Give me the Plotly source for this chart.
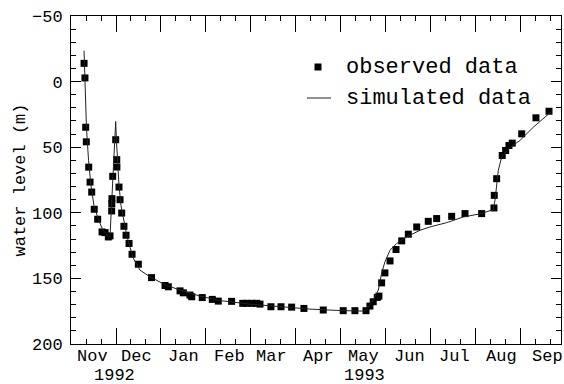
import datetime as dt
import plotly.graph_objects as go

# Time axis: days since 1 November 1992
START = dt.date(1992, 11, 1)

# Observed water level (m below reference), day offsets and values
obs_day = [8.7, 9.3, 9.8, 10.2, 11.8, 12.7, 13.8, 15.5, 17.8, 20.7, 22.7, 24.9, 26.0,
           27.1, 27.2, 27.3, 27.8, 29.8, 30.5, 30.6, 32.0, 32.7, 33.8, 35.3, 36.7,
           38.7, 40.7, 44.9, 53.7, 62.7, 64.9, 72.7, 74.9, 79.3, 80.5, 87.5, 94.2,
           98.2, 107.1, 114.5, 117.1, 120.5, 123.8, 126.0, 133.3, 140.0, 147.1,
           155.3, 168.2, 181.5, 189.3, 196.7, 199.3, 201.5, 204.2, 205.3, 207.1,
           209.3, 212.7, 216.7, 220.5, 224.9, 230.5, 238.2, 243.8, 253.8, 262.7,
           273.8, 282.0, 282.2, 283.8, 287.5, 289.8, 292.0, 294.2, 300.5, 310.0, 318.7]
obs_level = [-13.9, -2.8, 34.8, 45.9, 65.2, 76.6, 84.2, 97.3, 104.9, 114.6, 115.1, 118.4, 117.6,
             98.6, 93.0, 89.2, 72.2, 44.3, 59.5, 65.1, 80.4, 90.0, 100.2, 110.3, 117.1,
             123.4, 131.6, 139.2, 149.4, 155.4, 156.4, 159.5, 161.0, 162.7, 164.0, 164.6, 166.0,
             167.3, 167.5, 169.0, 169.0, 169.0, 169.0, 169.6, 171.6, 171.6, 171.9,
             172.9, 174.1, 174.6, 174.6, 174.6, 171.1, 167.8, 164.5, 163.5, 153.4,
             145.8, 136.7, 128.0, 121.4, 116.3, 110.8, 106.5, 104.4, 102.7, 100.6,
             100.6, 96.3, 86.7, 74.0, 56.3, 52.5, 48.7, 46.9, 39.8, 27.6, 22.6]

# Simulated water level
sim_day = [8.7, 9.3, 9.7, 10.3, 11.7, 13.3, 15.3, 18.0, 20.7, 23.3, 25.0, 26.0, 26.7,
           27.7, 28.7, 29.8, 30.3, 31.0, 32.0, 33.3, 35.3, 37.3, 39.3, 41.5, 46.0,
           52.7, 62.7, 72.7, 86.0, 99.3, 119.3, 139.3, 159.3, 179.3, 194.0, 196.7,
           199.3, 201.5, 204.9, 207.1, 209.3, 212.7, 217.1, 223.8, 232.7, 239.3,
           250.5, 261.5, 272.7, 281.5, 282.7, 283.8, 284.9, 287.1, 291.5, 299.3,
           308.2, 320.5]
sim_level = [-23.6, -3.0, 14.4, 35.0, 60.1, 79.1, 94.3, 104.2, 111.8, 116.3, 118.6, 117.9, 101.9,
             75.3, 52.5, 30.4, 44.9, 63.9, 79.1, 94.3, 107.2, 117.9, 126.2, 134.6, 143.7,
             148.8, 154.8, 158.9, 163.5, 166.9, 169.6, 171.5, 173.4, 174.5, 174.9, 174.1,
             170.3, 166.5, 158.9, 146.0, 137.4, 128.5, 123.4, 118.4, 113.3, 110.8,
             107.5, 103.2, 100.8, 97.6, 90.5, 76.6, 67.7, 57.6, 51.2, 44.9,
             34.8, 22.6]

# Month labels sit at the middle of each month
month_names = ["Nov", "Dec", "Jan", "Feb", "Mar", "Apr", "May", "Jun", "Jul", "Aug", "Sep"]
month_mid = [(dt.date(1992 + (10 + i) // 12, (10 + i) % 12 + 1, 15) - START).days
             for i in range(len(month_names))]
year_labels = ["1992", "1993"]
year_pos = [29, 196]

X_RANGE = [0, 326.7]
Y_RANGE = [200, -50]
FONT = "Liberation Mono"

W, H = 564, 384
ML, MR, MT, MB = 71, 3, 16, 40
PW, PH = W - ML - MR, H - MT - MB


def px_x(px):
    return (px - ML) / PW


def px_y(py):
    return 1 - (py - MT) / PH


fig = go.Figure()
fig.add_trace(go.Scatter(
    x=obs_day, y=obs_level, mode="markers", name="observed data",
    marker=dict(symbol="square", size=7, color="black"),
))
fig.add_trace(go.Scatter(
    x=sim_day, y=sim_level, mode="lines", name="simulated data",
    line=dict(color="#222222", width=1),
))
# Dummy trace so the tick-only axis is drawn
fig.add_trace(go.Scatter(x=[None], y=[None], xaxis="x2", showlegend=False, hoverinfo="skip"))

fig.update_layout(
    width=W, height=H,
    margin=dict(l=ML, r=MR, t=MT, b=MB),
    paper_bgcolor="white", plot_bgcolor="white",
    font=dict(family=FONT, size=17, color="black"),
    showlegend=False,
    xaxis=dict(
        range=X_RANGE, showticklabels=False,
        ticks="", showgrid=False, zeroline=False, showline=True, linecolor="black",
        linewidth=1, mirror=True,
    ),
    xaxis2=dict(
        range=X_RANGE, overlaying="x", anchor="y", side="bottom",
        tick0=0, dtick=30, ticks="inside", ticklen=16, tickcolor="black", tickwidth=1,
        minor=dict(dtick=10, ticks="inside", ticklen=5, tickcolor="black"),
        showticklabels=False, showgrid=False, zeroline=False, showline=False,
        mirror="ticks",
    ),
    yaxis=dict(
        range=Y_RANGE, tick0=-50, dtick=50, ticks="inside", ticklen=10, tickcolor="black",
        minor=dict(dtick=10, ticks="inside", ticklen=5, tickcolor="black"),
        showgrid=False, zeroline=False, showline=True, linecolor="black", linewidth=1,
        mirror="ticks", tickfont=dict(size=17), ticklabelstandoff=4,
        title=dict(text="water level (m)", font=dict(size=17), standoff=2),
    ),
)

# Month names under the axis, then the year under the first month of each year
for label, pos in zip(month_names, month_mid):
    fig.add_annotation(x=pos, y=0, xref="x", yref="paper", yshift=-12, yanchor="middle",
                       height=16, valign="middle",
                       text=label, showarrow=False, font=dict(size=17, family=FONT))
for label, pos in zip(year_labels, year_pos):
    fig.add_annotation(x=pos, y=0, xref="x", yref="paper", yshift=-31, yanchor="middle",
                       height=16, valign="middle",
                       text=label, showarrow=False, font=dict(size=17, family=FONT))

# Key: square marker and line sample with their labels
fig.add_shape(type="rect", xref="paper", yref="paper",
              x0=px_x(314.5), x1=px_x(321.5), y0=px_y(63.5), y1=px_y(70.5),
              fillcolor="black", line=dict(width=0))
fig.add_shape(type="line", xref="paper", yref="paper",
              x0=px_x(307), x1=px_x(331), y0=px_y(98), y1=px_y(98),
              line=dict(color="#222222", width=1))
for text, py in [("observed data", 67), ("simulated data", 98)]:
    fig.add_annotation(x=px_x(344), y=px_y(py), xref="paper", yref="paper",
                       xanchor="left", yanchor="middle", text=text, showarrow=False,
                       font=dict(size=22, family=FONT))

fig.write_html("out.html")
